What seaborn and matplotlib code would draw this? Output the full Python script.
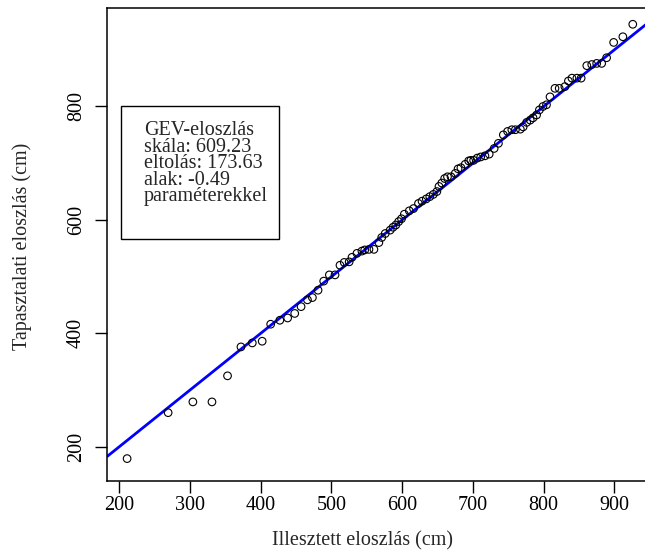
import matplotlib
matplotlib.use("Agg")
import matplotlib.pyplot as plt
import seaborn as sns
import pandas as pd
from matplotlib.patches import Rectangle

# Data
fitted = [211, 269, 304, 331, 353, 372, 388, 402, 414, 427,
          438, 448, 457, 466, 473, 481, 489, 497, 505, 512,
          518, 525, 529, 536, 543, 547, 553, 560, 567, 571,
          576, 583, 587, 591, 595, 599, 603, 610, 616, 623,
          628, 634, 639, 644, 649, 652, 656, 660, 664, 669,
          675, 679, 683, 689, 694, 697, 701, 706, 711, 717,
          723, 730, 736, 743, 749, 755, 760, 767, 771, 776,
          781, 785, 790, 794, 799, 804, 809, 816, 822, 830,
          835, 840, 847, 853, 861, 868, 875, 882, 889, 899,
          912, 926]
empirical = [179, 260, 279, 279, 325, 376, 383, 386, 416, 423,
             427, 435, 447, 459, 463, 476, 492, 503, 503, 520,
             525, 526, 534, 541, 545, 547, 548, 548, 560, 569,
             576, 582, 587, 591, 597, 602, 610, 616, 620, 629,
             633, 637, 641, 645, 650, 659, 665, 673, 676, 676,
             682, 690, 692, 698, 704, 705, 705, 709, 711, 713,
             716, 726, 735, 750, 756, 759, 759, 760, 764, 772,
             776, 780, 785, 794, 800, 803, 817, 832, 832, 835,
             845, 850, 850, 850, 872, 874, 876, 876, 886, 913,
             923, 945]
x_ticks = [200, 300, 400, 500, 600, 700, 800, 900]
y_ticks = [200, 400, 600, 800]
legend_lines = ["GEV-eloszlás", "skála: 609.23", "eltolás: 173.63",
                "alak: -0.49", "paraméterekkel"]
x_label = "Illesztett eloszlás (cm)"
y_label = "Tapasztalati eloszlás (cm)"

sns.set_style("ticks")
plt.rcParams['font.family'] = ['Liberation Serif', 'DejaVu Serif']

W, H = 645, 556
fig = plt.figure(figsize=(W / 100, H / 100), dpi=100)
ax = fig.add_axes([107.3 / W, (H - 481) / H, (652 - 107.3) / W, (481 - 8) / H])

df = pd.DataFrame({"fitted": fitted, "empirical": empirical})
sns.scatterplot(data=df, x="fitted", y="empirical", ax=ax, marker="o",
                s=30, facecolor="none", edgecolor="black", linewidth=0.8,
                zorder=3)
ax.axline((0, 0), slope=1, color="#0000ff", lw=2, zorder=2)

ax.set_xlim(183.0, 953.2)
ax.set_ylim(139.5, 973.7)
ax.set_xticks(x_ticks)
ax.set_yticks(y_ticks)
ax.set_xticklabels([str(t) for t in x_ticks], fontsize=14.5)
ax.set_yticklabels([str(t) for t in y_ticks], fontsize=14.5, rotation=90,
                   va="center")
ax.tick_params(axis="x", length=8.5, width=1, pad=2, colors="black")
ax.tick_params(axis="y", length=8.5, width=1, pad=7, colors="black")
for sp in ax.spines.values():
    sp.set_linewidth(1.1)
    sp.set_color("black")

ax.set_xlabel("")
ax.set_ylabel("")
fig.text(362 / W, 1 - 541 / H, x_label, ha="center", va="center", fontsize=14.5)
fig.text(22 / W, 1 - 246 / H, y_label, ha="center", va="center",
         rotation=90, fontsize=14.5)

# legend box
rect = Rectangle((120.7 / W, 1 - 239 / H), (279 - 120.7) / W, (239 - 105.7) / H,
                 transform=fig.transFigure, fill=False, edgecolor="black",
                 linewidth=1.0, zorder=5)
fig.patches.append(rect)
fig.text(144 / W, 1 - 121 / H, "\n".join(legend_lines), ha="left", va="top",
         fontsize=14.5, linespacing=0.83)

fig.savefig("out.png", dpi=100)
